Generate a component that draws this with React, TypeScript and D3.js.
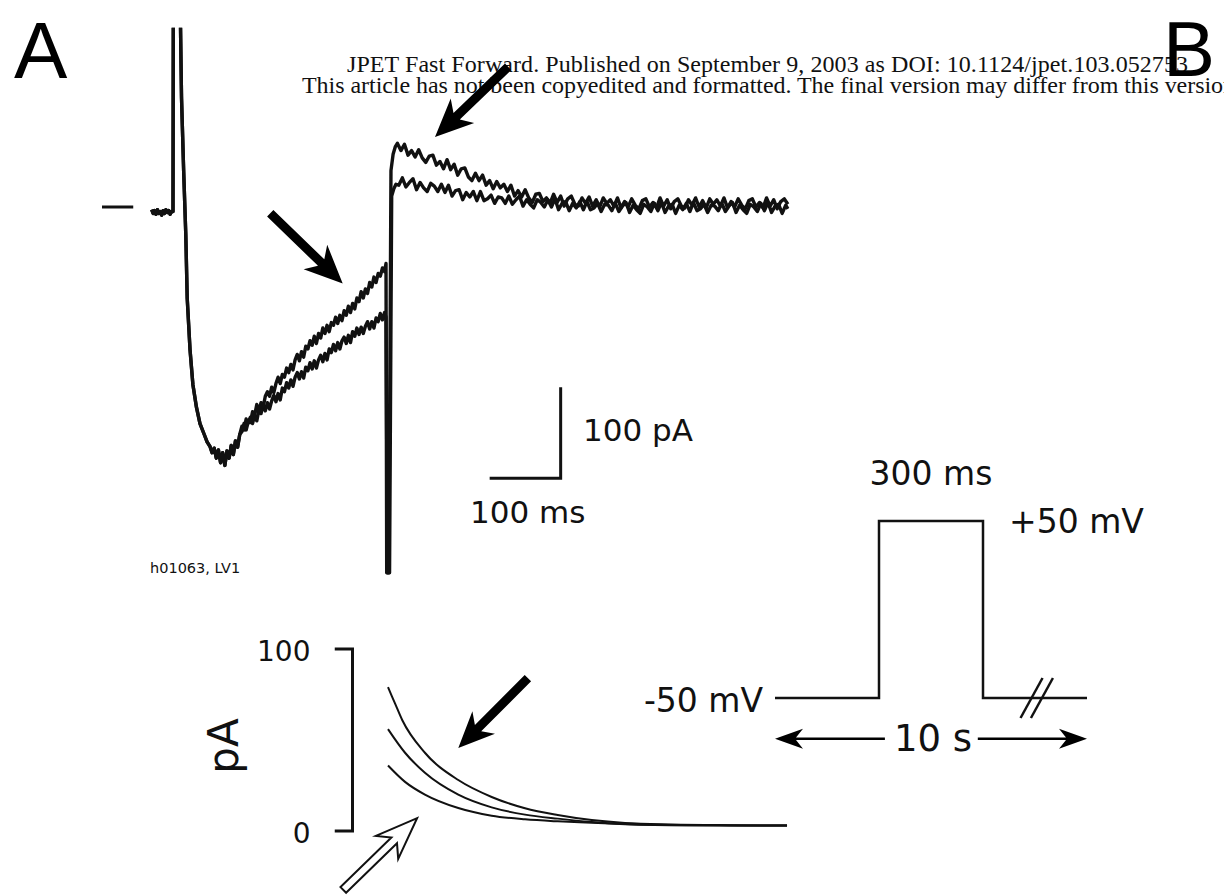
import React from 'react'
import * as d3 from 'd3'

// ---- panel A trace: [ms from step onset, pA] ----
const preStep = [[-30,-3],[-28,-7],[-26,-4],[-24,-8],[-22,-3],[-20,-7],[-18,-5],[-16,-9],[-14,-4],[-12,-7],[-10,-3],[-8,-6],[-6,-4],[-4,-8],[-2,-5],[0,-5]]
// capacitive transient runs off scale; the plot clips it at ~197 pA
const spike = [[0.5,230],[10,230],[12,120],[15,40],[18,-30],[20,-100],[24,-157],[28,-195],[33,-220],[38,-238],[44,-250],[48,-258],[52,-263],[55,-270],[58,-265],[61,-276],[64,-267],[67,-281],[70,-270],[73,-284],[76,-268],[79,-276],[82,-262],[85,-272],[88,-257],[91,-264],[94,-250]]

const upperStep = [[97,-241],[100,-245],[103,-233],[106,-237],[109,-237],[112,-225],[115,-229],[118,-217],[121,-224],[124,-215],[127,-220],[130,-208],[133,-203],[136,-208],[139,-198],[142,-204],[145,-194],[148,-187],[151,-194],[154,-184],[157,-187],[160,-177],[163,-182],[166,-173],[169,-179],[172,-168],[175,-162],[178,-169],[181,-159],[184,-165],[187,-153],[190,-156],[193,-147],[196,-152],[199,-142],[202,-150],[205,-139],[208,-144],[211,-133],[214,-139],[217,-130],[220,-137],[223,-127],[226,-130],[229,-121],[232,-128],[235,-119],[238,-125],[241,-114],[244,-119],[247,-109],[250,-116],[253,-106],[256,-112],[259,-100],[262,-104],[265,-93],[268,-100],[271,-90],[274,-95],[277,-83],[280,-88],[283,-77],[286,-83],[289,-73],[292,-76],[295,-67],[298,-71],[300,-62]]
const lowerStep = [[97,-247],[100,-238],[103,-245],[106,-236],[109,-231],[112,-238],[115,-229],[118,-235],[121,-223],[124,-227],[127,-217],[130,-224],[133,-215],[136,-222],[139,-213],[142,-207],[145,-214],[148,-205],[151,-212],[154,-199],[157,-203],[160,-193],[163,-199],[166,-190],[169,-197],[172,-187],[175,-182],[178,-189],[181,-181],[184,-188],[187,-176],[190,-180],[193,-171],[196,-178],[199,-169],[202,-177],[205,-168],[208,-163],[211,-170],[214,-161],[217,-168],[220,-156],[223,-160],[226,-151],[229,-158],[232,-149],[235,-156],[238,-147],[241,-143],[244,-150],[247,-141],[250,-149],[253,-137],[256,-142],[259,-133],[262,-140],[265,-132],[268,-139],[271,-131],[274,-126],[277,-134],[280,-126],[283,-133],[286,-122],[289,-126],[292,-117],[295,-124],[298,-116],[300,-121]]

const upperDip = [[301,-402],[304,-402],[307,40],[310,58],[313,66]]
const lowerDip = [[302,-402],[305,-402],[308,12],[311,20],[314,25]]

const upperTail = [[316,70],[321,62],[326,69],[331,57],[336,62],[341,55],[346,63],[351,54],[356,49],[361,56],[366,57],[371,46],[376,50],[381,42],[386,52],[391,41],[396,47],[401,35],[406,42],[411,43],[416,33],[421,29],[426,37],[431,29],[436,35],[441,24],[446,29],[451,20],[456,28],[461,21],[466,25],[471,17],[476,24],[481,12],[486,18],[491,11],[496,19],[501,10],[506,5],[511,14],[516,15],[521,6],[526,10],[531,4],[536,14],[541,5],[546,12],[551,1],[556,9],[561,12],[566,3],[571,1],[576,10],[581,4],[586,11],[591,1],[596,8],[601,0],[606,10],[611,4],[616,8],[621,1],[626,10],[631,-1],[636,6],[641,0],[646,9],[651,2],[656,-2],[661,7],[666,9],[671,0],[676,5],[681,-1],[686,10],[691,1],[696,8],[701,-2],[706,6],[711,9],[716,1],[721,-1],[726,8],[731,2],[736,10],[741,0],[746,7],[751,-1],[756,9],[761,3],[766,8],[771,1],[776,10],[781,-1],[786,6],[791,0],[796,9],[801,2],[806,-2],[811,7],[816,9],[821,0],[826,5],[831,-1],[836,10],[841,1],[846,8],[851,-2],[856,6],[861,9],[866,3]]
const lowerTail = [[318,24],[323,32],[328,22],[333,27],[338,31],[343,19],[348,27],[353,21],[358,17],[363,26],[368,23],[373,17],[378,25],[383,16],[388,24],[393,12],[398,18],[403,19],[408,8],[413,16],[418,11],[423,17],[428,7],[433,17],[438,7],[443,9],[448,13],[453,4],[458,11],[463,10],[468,4],[473,12],[478,3],[483,8],[488,12],[493,1],[498,8],[503,3],[508,-1],[513,8],[518,5],[523,0],[528,8],[533,0],[538,9],[543,-3],[548,4],[553,6],[558,-4],[563,4],[568,-1],[573,6],[578,-3],[583,6],[588,-3],[593,-1],[598,4],[603,-5],[608,3],[613,2],[618,-4],[623,4],[628,-5],[633,1],[638,5],[643,-6],[648,2],[653,-3],[658,-7],[663,3],[668,0],[673,-5],[678,4],[683,-4],[688,5],[693,-6],[698,1],[703,3],[708,-7],[713,2],[718,-3],[723,4],[728,-5],[733,5],[738,-4],[743,-2],[748,3],[753,-6],[758,2],[763,1],[768,-4],[773,4],[778,-5],[783,1],[788,5],[793,-6],[798,2],[803,-3],[808,-7],[813,3],[818,0],[823,-5],[828,4],[833,-4],[838,5],[843,-6],[848,1],[853,3],[858,-7],[863,2],[866,-2]]

// ---- inset: fitted decays [ms after step, pA] ----
const fitSlow = [[0,79],[10,70],[20,61],[52,43],[99,28],[146,18.7],[193,12.5],[239,8.8],[287,6],[334,4.4],[400,3.6],[480,3.2],[562,3]]
const fitMid = [[0,56],[24,43],[52,32],[99,20],[146,13],[193,9],[239,6.8],[287,5],[334,3.9],[420,3.2],[562,3]]
const fitFast = [[0,36],[24,27],[52,20],[99,12.6],[146,8.4],[193,6.4],[239,5.3],[287,4.5],[334,3.7],[420,3.1],[562,3]]
const insetTicks = [0, 100]

// ---- panel B protocol ----
const pulseMs = [-300, 0, 0, 300, 300, 600]
const pulseMv = [-50, -50, 50, 50, -50, -50]

const header1 = 'JPET Fast Forward. Published on September 9, 2003 as DOI: 10.1124/jpet.103.052753'
const header2 = 'This article has not been copyedited and formatted. The final version may differ from this version.'

const xA = d3.scaleLinear().domain([0, 100]).range([173, 244])
const yA = d3.scaleLinear().domain([0, 100]).range([207, 116])
const xI = d3.scaleLinear().domain([0, 100]).range([388, 459])
const yI = d3.scaleLinear().domain([0, 100]).range([831, 649])
const xP = d3.scaleLinear().domain([-300, 600]).range([775, 1087])
const yP = d3.scaleLinear().domain([-50, 50]).range([698, 521])

function arrowPath(x1, y1, x2, y2, shaft, headLen, headHalf, notch) {
  const dx = x2 - x1, dy = y2 - y1
  const L = Math.hypot(dx, dy)
  const ux = dx / L, uy = dy / L
  const nx = -uy, ny = ux
  const bx = x2 - ux * headLen, by = y2 - uy * headLen
  const cx = x2 - ux * (headLen - notch), cy = y2 - uy * (headLen - notch)
  const w = shaft / 2
  const p = [
    [x1 + nx * w, y1 + ny * w],
    [cx + nx * w, cy + ny * w],
    [bx + nx * headHalf, by + ny * headHalf],
    [x2, y2],
    [bx - nx * headHalf, by - ny * headHalf],
    [cx - nx * w, cy - ny * w],
    [x1 - nx * w, y1 - ny * w],
  ]
  return 'M' + p.map(q => q[0].toFixed(1) + ',' + q[1].toFixed(1)).join('L') + 'Z'
}

export default function App() {
  const traceLine = d3.line().x(d => xA(d[0])).y(d => yA(d[1]))
  const insetLine = d3.line().x(d => xI(d[0])).y(d => yI(d[1])).curve(d3.curveMonotoneX)
  const pulse = pulseMs.map((t, i) => [t, pulseMv[i]])
  const pulseLine = d3.line().x(d => xP(d[0])).y(d => yP(d[1]))

  const upper = [...preStep, ...spike, ...upperStep, ...upperDip, ...upperTail]
  const lower = [...preStep, ...spike, ...lowerStep, ...lowerDip, ...lowerTail]

  const lbl = { fontFamily: 'DejaVu Sans, Verdana, sans-serif', fill: '#111' }

  // scale bar corner (ms, pA)
  const sbT = 546, sbI = -298

  return (
    <svg width={1224} height={896} style={{ position: 'absolute', left: 0, top: 0, display: 'block', background: '#fff' }}>
      <defs>
        <clipPath id="traceClip">
          <rect x={0} y={yA(197)} width={1224} height={896} />
        </clipPath>
      </defs>
      <rect width={1224} height={896} fill="#fff" />

      {/* header */}
      <g fontFamily="Liberation Serif, Times New Roman, serif" fontSize={24} fill="#111">
        <text x={347} y={72} textLength={841} lengthAdjust="spacing">{header1}</text>
        <text x={302} y={93} textLength={939} lengthAdjust="spacing">{header2}</text>
      </g>

      {/* panel letters */}
      <g fontFamily="Liberation Sans, Arial, sans-serif" fontSize={80} fill="#000">
        <text x={14} y={78}>A</text>
      </g>

      {/* zero-current marker */}
      <line x1={xA(-100)} x2={xA(-56)} y1={yA(0)} y2={yA(0)} stroke="#111" strokeWidth={3} />

      {/* current traces */}
      <g clipPath="url(#traceClip)">
        <path d={traceLine(lower)} fill="none" stroke="#111" strokeWidth={3.4} strokeLinejoin="round" />
        <path d={traceLine(upper)} fill="none" stroke="#111" strokeWidth={3.4} strokeLinejoin="round" />
      </g>

      {/* scale bar */}
      <path d={`M${xA(sbT - 100)},${yA(sbI)}H${xA(sbT)}V${yA(sbI + 100)}`} fill="none" stroke="#111" strokeWidth={3} />
      <text x={583} y={441} fontSize={31} {...lbl}>100 pA</text>
      <text x={470} y={523} fontSize={31} {...lbl}>100 ms</text>
      <text x={150} y={573} fontSize={14.5} {...lbl}>h01063, LV1</text>

      {/* arrows on trace */}
      <path d={arrowPath(xA(472), yA(154), xA(369), yA(77), 9, 38, 17, 8)} fill="#000" />
      <path d={arrowPath(xA(137), yA(-7), xA(239), yA(-84), 9, 38, 17, 8)} fill="#000" />

      {/* inset with fitted exponentials */}
      <path d={`M${xI(-75)},${yI(100)}H${xI(-50)}V${yI(0)}H${xI(-75)}`} fill="none" stroke="#111" strokeWidth={3} />
      {insetTicks.map(v => (
        <text key={v} x={xI(-50) - 42} y={yI(v) + 12} fontSize={28} textAnchor="end" {...lbl}>{v}</text>
      ))}
      <text transform={`translate(238,${(yI(0) + yI(100)) / 2 + 6}) rotate(-90)`} fontSize={42} textAnchor="middle" {...lbl}>pA</text>
      {[fitSlow, fitMid, fitFast].map((c, i) => (
        <path key={i} d={insetLine(c)} fill="none" stroke="#111" strokeWidth={2} />
      ))}
      <path d={arrowPath(xI(197), yI(84), xI(99), yI(45.6), 9, 36, 16, 8)} fill="#000" />
      <path d={arrowPath(xI(-63), yI(-32.4), xI(41), yI(7.1), 8, 42, 16, 10)} fill="#fff" stroke="#111" strokeWidth={2} strokeLinejoin="miter" />

      {/* panel B protocol */}
      <path d={pulseLine(pulse)} fill="none" stroke="#111" strokeWidth={2.5} />
      <line x1={xP(440) - 11} y1={yP(-50) + 20} x2={xP(440) + 11} y2={yP(-50) - 20} stroke="#111" strokeWidth={2.5} />
      <line x1={xP(470) - 11} y1={yP(-50) + 20} x2={xP(470) + 11} y2={yP(-50) - 20} stroke="#111" strokeWidth={2.5} />
      <text x={(xP(0) + xP(300)) / 2} y={485} fontSize={33} textAnchor="middle" {...lbl}>300 ms</text>
      <text x={1009} y={533} fontSize={33} {...lbl}>+50 mV</text>
      <text x={xP(-300) - 12} y={712} fontSize={33} textAnchor="end" {...lbl}>-50 mV</text>
      <path d={arrowPath(xP(17), yP(-73), xP(-300), yP(-73), 2.5, 28, 10, 7)} fill="#000" />
      <path d={arrowPath(xP(285), yP(-73), xP(600), yP(-73), 2.5, 28, 10, 7)} fill="#000" />
      <text x={(xP(0) + xP(300)) / 2 + 2} y={751} fontSize={37} textAnchor="middle" {...lbl}>10 s</text>

      <g fontFamily="Liberation Sans, Arial, sans-serif" fontSize={78} fill="#000">
        <text x={1163} y={76}>B</text>
      </g>
    </svg>
  )
}
